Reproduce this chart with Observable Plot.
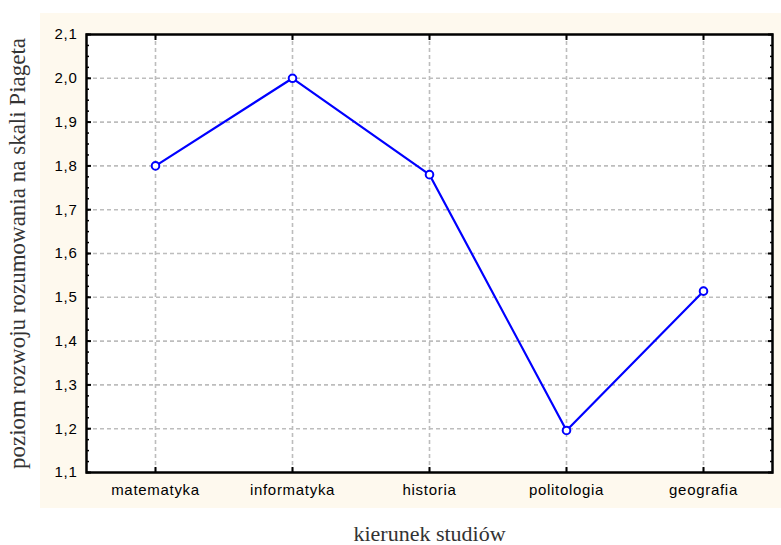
<!DOCTYPE html>
<html>
<head>
<meta charset="utf-8">
<script src="https://cdn.jsdelivr.net/npm/d3@7"></script>
<script src="https://cdn.jsdelivr.net/npm/@observablehq/plot@0.6"></script>
<style>
  html, body { margin: 0; padding: 0; background: #ffffff; }
  #wrap { position: relative; width: 781px; height: 545px; }
  #bg { position: absolute; left: 40px; top: 13px; width: 741px; height: 495px; background: #fef9ee; }
  #chart { position: absolute; left: 0; top: 0; }
  #chart svg { background: transparent; }
  .ticklab text { letter-spacing: 0.7px; }
</style>
</head>
<body>
<div id="wrap"><div id="bg"></div><div id="chart"></div></div>
<script>
const categories = ["matematyka", "informatyka", "historia", "politologia", "geografia"];
const values = [1.80, 2.00, 1.78, 1.196, 1.514];
const yMajorTicks = [1.1, 1.2, 1.3, 1.4, 1.5, 1.6, 1.7, 1.8, 1.9, 2.0, 2.1];
const yMinorTicks = d3.range(0, 41).map(i => +(1.1 + i * 0.025).toFixed(3));
const xTitle = "kierunek studiów";
const yTitle = "poziom rozwoju rozumowania na skali Piageta";

const data = categories.map((c, i) => ({cat: c, v: values[i]}));
const fmt = d => d.toFixed(1).replace(".", ",");
const grid = {stroke: "#bdbdbd", strokeOpacity: 1, strokeWidth: 1.6, strokeDasharray: "4,3"};

const plot = Plot.plot({
  width: 781,
  height: 545,
  marginLeft: 86,
  marginRight: 9,
  marginTop: 34,
  marginBottom: 73,
  style: {background: "transparent", fontFamily: "Liberation Sans, Arial, sans-serif"},
  x: {type: "point", domain: categories, padding: 0.5},
  y: {domain: [1.1, 2.1]},
  marks: [
    Plot.frame({fill: "white"}),
    Plot.gridY(yMajorTicks.slice(1, -1), grid),
    Plot.gridX(categories, grid),
    Plot.axisY(yMinorTicks, {anchor: "left", tickSize: -3, text: null, label: null, strokeWidth: 1.5}),
    Plot.axisY(yMinorTicks, {anchor: "right", tickSize: -3, text: null, label: null, strokeWidth: 1.5}),
    Plot.axisY(yMajorTicks, {anchor: "left", tickSize: -5, text: null, label: null, strokeWidth: 2}),
    Plot.axisY(yMajorTicks, {anchor: "right", tickSize: -5, text: null, label: null, strokeWidth: 2}),
    Plot.axisX(categories, {anchor: "bottom", tickSize: -5, text: null, label: null, strokeWidth: 2}),
    Plot.axisX(categories, {anchor: "top", tickSize: -5, text: null, label: null, strokeWidth: 2}),
    Plot.axisY(yMajorTicks, {anchor: "left", tickSize: 0, tickPadding: 9, tickFormat: fmt, fontSize: 15, fill: "#000", label: null, className: "ticklab"}),
    Plot.axisX(categories, {anchor: "bottom", tickSize: 0, tickPadding: 12, fontSize: 15, fill: "#000", label: null, className: "ticklab"}),
    Plot.axisY({anchor: "left", ticks: [], tickSize: 0, label: yTitle, labelAnchor: "center", labelArrow: "none", labelOffset: 78, fontSize: 23, fontFamily: "Liberation Serif, serif", fill: "#333"}),
    Plot.axisX({anchor: "bottom", ticks: [], tickSize: 0, label: xTitle, labelAnchor: "center", labelArrow: "none", labelOffset: 68, fontSize: 22, fontFamily: "Liberation Serif, serif", fill: "#333", dx: -6}),
    Plot.frame({stroke: "#000", strokeWidth: 2.5}),
    Plot.line(data, {x: "cat", y: "v", stroke: "#0000ff", strokeWidth: 2.2}),
    Plot.dot(data, {x: "cat", y: "v", r: 3.8, fill: "white", stroke: "#0000ff", strokeWidth: 2})
  ]
});
document.getElementById("chart").appendChild(plot);
</script>
</body>
</html>
